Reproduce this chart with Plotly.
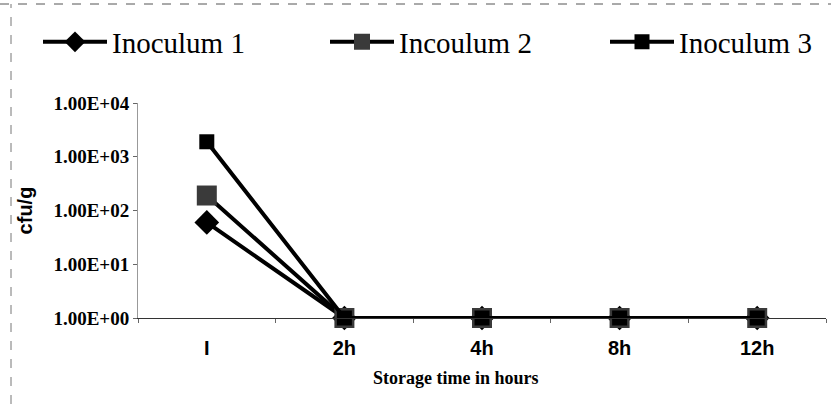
import plotly.graph_objects as go

categories = ["I", "2h", "4h", "8h", "12h"]
inoculum1 = [60, 1, 1, 1, 1]
inoculum2 = [190, 1, 1, 1, 1]
inoculum3 = [1900, 1, 1, 1, 1]
series_names = ["Inoculum 1", "Incoulum 2", "Inoculum 3"]
ytick_vals = [1, 10, 100, 1000, 10000]
ytick_text = ["1.00E+00", "1.00E+01", "1.00E+02", "1.00E+03", "1.00E+04"]

L, R, T, B = 138, 5, 103, 86
PH = 404 - T - B
PW = 831 - L - R

fig = go.Figure()
styles = [
    dict(symbol="diamond", size=19, color="#000000"),
    dict(symbol="square", size=20, color="#3a3a3a"),
    dict(symbol="square", size=15, color="#000000"),
]
legend_ids = ["legend", "legend2", "legend3"]
legend_starts = [53, 340, 620]
for name, vals, st, lid in zip(series_names, [inoculum1, inoculum2, inoculum3], styles, legend_ids):
    fig.add_trace(go.Scatter(
        x=categories, y=vals, name=name, mode="lines+markers",
        line=dict(color="#000000", width=4),
        marker=dict(symbol=st["symbol"], size=st["size"], color=st["color"],
                    line=dict(width=0)),
        cliponaxis=False, legend=lid,
    ))

legend_common = dict(orientation="h", xanchor="left", yanchor="middle",
                     y=(404 - B - 42) / PH,
                     font=dict(family="Liberation Serif", size=29, color="#000000"),
                     itemwidth=64, bgcolor="rgba(0,0,0,0)")

fig.update_layout(
    width=831, height=404,
    margin=dict(l=L, r=R, t=T, b=B, autoexpand=False),
    paper_bgcolor="white", plot_bgcolor="white",
    showlegend=True,
    legend=dict(x=(legend_starts[0] - 15 - L) / PW, **legend_common),
    legend2=dict(x=(legend_starts[1] - 15 - L) / PW, **legend_common),
    legend3=dict(x=(legend_starts[2] - 15 - L) / PW, **legend_common),
    xaxis=dict(type="category", range=[-0.5, 4.5], showgrid=False,
               showline=True, linecolor="#333333", linewidth=1,
               ticks="outside", tickson="boundaries", ticklen=4, tickcolor="#666666",
               ticklabelstandoff=12,
               tickfont=dict(family="Liberation Sans", size=20, color="#000000", weight="bold")),
    yaxis=dict(type="log", range=[0, 4], showgrid=False,
               showline=True, linecolor="#999999", linewidth=1,
               tickvals=ytick_vals, ticktext=ytick_text,
               ticks="outside", ticklen=4, tickcolor="#666666",
               tickfont=dict(family="Liberation Serif", size=19, color="#000000", weight="bold"),
               title=dict(text="cfu/g", standoff=15,
                          font=dict(family="Liberation Sans", size=20, color="#000000", weight="bold"))),
    annotations=[dict(text="<b>Storage time in hours</b>", xref="paper", yref="paper",
                      x=(456 - L) / PW, y=(404 - B - 378) / PH, xanchor="center", yanchor="middle",
                      showarrow=False,
                      font=dict(family="Liberation Serif", size=18, color="#000000"))],
    shapes=[
        dict(type="line", xref="paper", yref="paper", x0=(0 - L) / PW, x1=(831 - L) / PW,
             y0=(404 - B - 4) / PH, y1=(404 - B - 4) / PH,
             line=dict(color="#555555", width=1, dash="dash")),
        dict(type="line", xref="paper", yref="paper", x0=(11 - L) / PW, x1=(11 - L) / PW,
             y0=(404 - B - 404) / PH, y1=(404 - B - 4) / PH,
             line=dict(color="#777777", width=1, dash="dash")),
    ],
)

fig.write_html("out.html", config={"displayModeBar": False},
               post_script="document.body.style.margin='0';document.body.style.padding='0';")
